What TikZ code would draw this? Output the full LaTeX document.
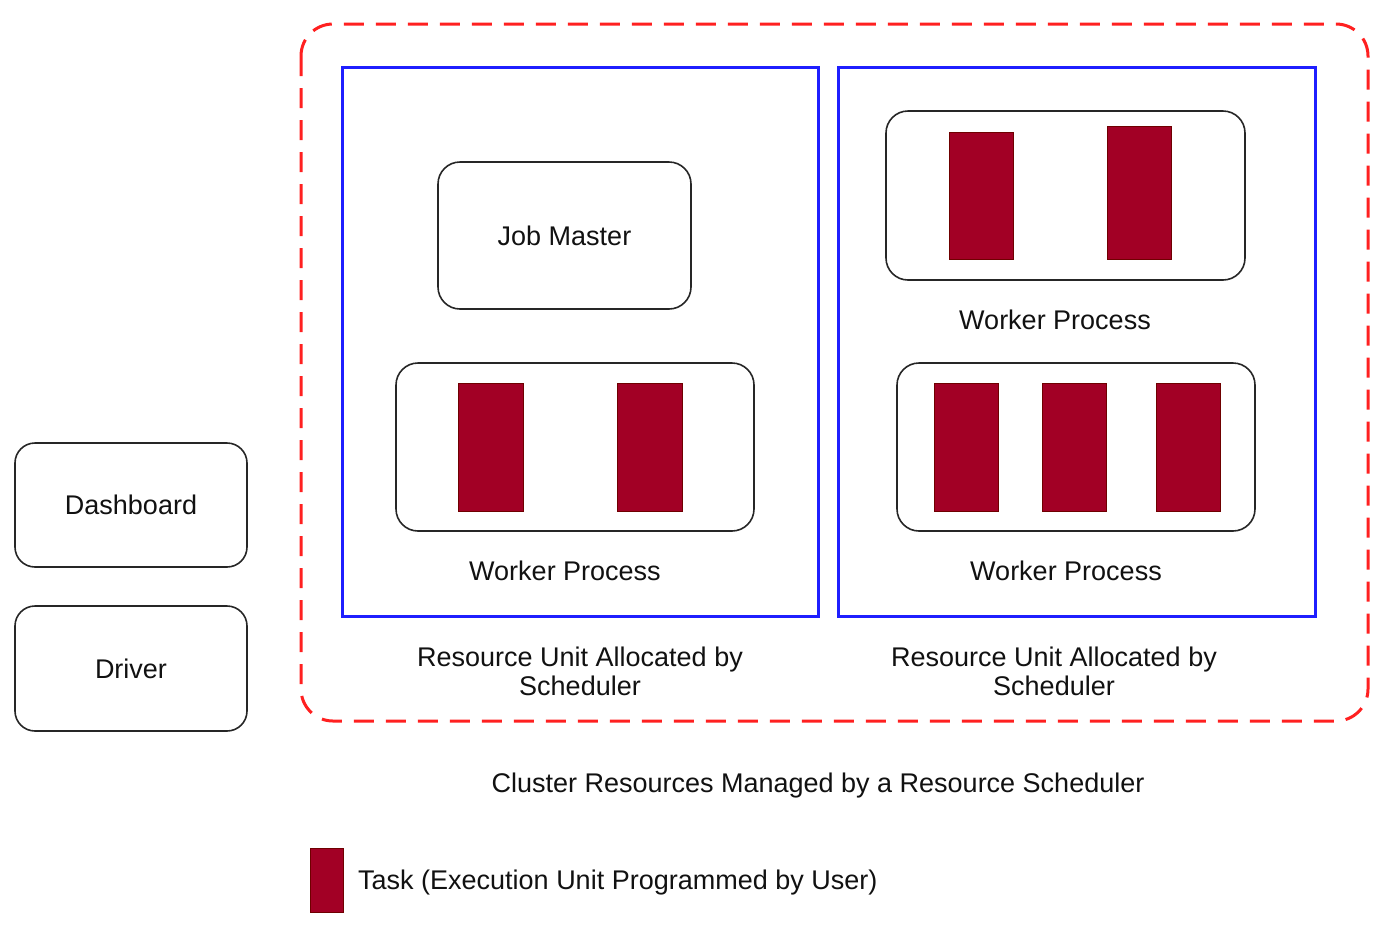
\documentclass[tikz,border=0pt]{standalone}
\usepackage{fontspec}
\setmainfont{Liberation Sans}
\definecolor{taskred}{HTML}{A20025}
\definecolor{taskedge}{HTML}{6F0000}
\definecolor{txt}{HTML}{111111}
\definecolor{unitblue}{HTML}{1F1FFF}
\definecolor{clusterred}{HTML}{FF2020}
\begin{document}
\begin{tikzpicture}[x=1pt,y=-1pt,
  every node/.style={font=\fontsize{27}{30}\selectfont, text=txt},
  roundbox/.style={draw=black!85, line width=1.6pt, rounded corners=22pt, inner sep=0pt},
  task/.style={fill=taskred, draw=taskedge, line width=0.8pt, inner sep=0pt},
  unit/.style={draw=unitblue, line width=3pt, inner sep=0pt},
  lbl/.style={align=center, inner sep=0pt},
]
\useasboundingbox (0,0) rectangle (1396,946);
% cluster
\draw[clusterred, line width=3pt, dash pattern=on 20pt off 12pt, rounded corners=32pt]
  (301,24) rectangle (1368,721);
% resource units
\node[unit, minimum width=476pt, minimum height=549pt] (u1) at (580,341.5) {};
\node[unit, minimum width=477pt, minimum height=549pt] (u2) at (1076.5,341.5) {};
% job master
\node[roundbox, minimum width=253pt, minimum height=147pt, text depth=0pt] (jm) at (564.5,235.5) {Job Master};
% worker 1 (left)
\node[roundbox, minimum width=358pt, minimum height=168pt] (w1) at (575,447) {};
\node[task, minimum width=65pt, minimum height=128pt] (t11) at (490.5,447) {};
\node[task, minimum width=65pt, minimum height=128pt] (t12) at (649.5,447) {};
\node[lbl] (w1l) at (565,570.5) {Worker Process};
% worker 2 (right top)
\node[roundbox, minimum width=359pt, minimum height=169pt] (w2) at (1065.5,195.5) {};
\node[task, minimum width=64pt, minimum height=127pt] (t21) at (981,195.5) {};
\node[task, minimum width=64pt, minimum height=133pt] (t22) at (1139,192.5) {};
\node[lbl] (w2l) at (1055,319.5) {Worker Process};
% worker 3 (right bottom)
\node[roundbox, minimum width=358pt, minimum height=168pt] (w3) at (1076,447) {};
\node[task, minimum width=64pt, minimum height=128pt] (t31) at (966,447) {};
\node[task, minimum width=64pt, minimum height=128pt] (t32) at (1074,447) {};
\node[task, minimum width=64pt, minimum height=128pt] (t33) at (1188,447) {};
\node[lbl] (w3l) at (1066,570.5) {Worker Process};
% unit labels
\node[lbl, font=\fontsize{27}{29.5}\selectfont] (u1l) at (580,671.5) {Resource Unit Allocated by\\Scheduler};
\node[lbl, font=\fontsize{27}{29.5}\selectfont] (u2l) at (1054,671.5) {Resource Unit Allocated by\\Scheduler};
% dashboard, driver
\node[roundbox, rounded corners=20pt, minimum width=232pt, minimum height=124pt, text depth=0pt] (dash) at (131,505) {Dashboard};
\node[roundbox, rounded corners=20pt, minimum width=232pt, minimum height=125pt, text depth=0pt] (drv) at (131,668.5) {Driver};
% cluster label
\node[lbl] (cl) at (818,786) {Cluster Resources Managed by a Resource Scheduler};
% legend
\node[task, minimum width=33pt, minimum height=64pt] (lt) at (326.5,880) {};
\node[lbl, anchor=west] (ltl) at (358,883) {Task (Execution Unit Programmed by User)};
\end{tikzpicture}
\end{document}
